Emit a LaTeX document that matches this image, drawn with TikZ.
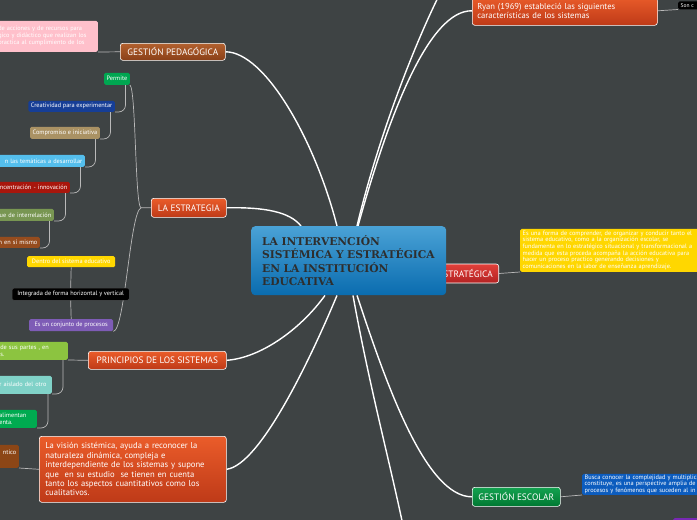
\documentclass[tikz,border=0pt]{standalone}
\usepackage{fontspec}
\setmainfont{PT Sans}
\newfontfamily\titulofont{DejaVu Serif}
\usetikzlibrary{positioning}
\definecolor{fondo}{RGB}{62,67,68}
\definecolor{azulA}{RGB}{74,162,214}
\definecolor{azulB}{RGB}{10,108,175}
\definecolor{cafeA}{RGB}{178,96,46}
\definecolor{cafeB}{RGB}{138,64,24}
\definecolor{naranjaA}{RGB}{234,92,42}
\definecolor{naranjaB}{RGB}{190,58,24}
\definecolor{rojoA}{RGB}{226,64,58}
\definecolor{rojoB}{RGB}{178,34,34}
\definecolor{verdeA}{RGB}{20,162,80}
\definecolor{verdeB}{RGB}{0,120,50}
\definecolor{rosa}{RGB}{255,192,203}
\definecolor{amarillo}{RGB}{255,215,0}
\definecolor{morado}{RGB}{126,92,182}
\definecolor{lila}{RGB}{120,40,180}
\definecolor{hilo}{RGB}{185,185,185}
\pgfdeclarelayer{atras}
\pgfsetlayers{atras,main}
\tikzset{
  tema/.style={draw=white, line width=0.6pt, rounded corners=2.5pt, text=white,
    font=\fontsize{9.3}{9.5}\selectfont, inner sep=0pt},
  hoja/.style={rounded corners=1.5pt, text=white, font=\fontsize{6.3}{6.8}\selectfont,
    inner xsep=2.5pt, inner ysep=1pt},
  rama/.style={white, line width=1.4pt},
  enlace/.style={hilo, line width=0.7pt},
}
\begin{document}
\begin{tikzpicture}[x=1pt,y=-1pt,line join=round,line cap=round]
\useasboundingbox (0,0) rectangle (697,520);
\begin{pgfonlayer}{atras}
  \fill[fondo] (0,0) rectangle (697,520);
\end{pgfonlayer}

% nodo oculto detras del centro
\node[tema, top color=rojoA, bottom color=rojoB, minimum height=19, inner xsep=6pt, anchor=east] (es) at (499,273.5) {ESTRATÉGICA};

% centro
\node[rounded corners=4pt, top color=azulA, bottom color=azulB, minimum width=195, minimum height=69,
  inner xsep=11pt, text width=173, align=left, anchor=north west, text=black!82,
  font=\titulofont\bfseries\fontsize{10.7}{13.6}\selectfont] (cn) at (251,226)
  {\mbox{LA INTERVENCIÓN}\\\mbox{SISTÉMICA Y ESTRATÉGICA}\\\mbox{EN LA INSTITUCIÓN}\\\mbox{EDUCATIVA}};

% temas
\node[tema, top color=cafeA, bottom color=cafeB, minimum width=105, minimum height=17, anchor=north west] (gp) at (120,43) {GESTIÓN PEDAGÓGICA};
\node[tema, top color=naranjaA, bottom color=naranjaB, minimum width=75, minimum height=19, anchor=north west] (le) at (151,198) {LA ESTRATEGIA};
\node[tema, top color=naranjaA, bottom color=naranjaB, minimum width=138, minimum height=18, anchor=north west] (pr) at (88,351) {PRINCIPIOS DE LOS SISTEMAS};
\node[tema, top color=naranjaA, bottom color=naranjaB, minimum width=187, minimum height=66, inner xsep=6pt,
  text width=175, align=left, anchor=north west, font=\fontsize{8.6}{9.4}\selectfont] (lv) at (39,436)
  {La visión sistémica, ayuda a reconocer la\\naturaleza dinámica, compleja e\\interdependiente de los sistemas y supone\\que~~en su estudio~~se tienen en cuenta\\tanto los aspectos cuantitativos como los\\cualitativos.};
\node[tema, top color=naranjaA, bottom color=naranjaB, minimum width=185, minimum height=29, inner xsep=5pt,
  text width=175, align=left, anchor=north west, font=\fontsize{8.6}{9.2}\selectfont] (ry) at (472,-4)
  {Ryan (1969) estableció las siguientes\\características de los sistemas};
\node[tema, top color=verdeA, bottom color=verdeB, minimum width=88, minimum height=19, anchor=north west] (ge) at (472,487) {GESTIÓN ESCOLAR};

% hojas
\node[hoja, fill=rosa, text width=97, align=left, minimum height=31, anchor=south east,
  font=\fontsize{6.3}{7}\selectfont] (pk) at (98,52)
  {de acciones y de recursos para\\gico y didáctico que realizan los\\ practica al cumplimiento de los};
\node[hoja, fill=black, text width=40, align=left, inner ysep=2pt, anchor=south west,
  font=\fontsize{5.5}{6}\selectfont] (ng) at (678,9.5) {Son c};
\node[hoja, fill=amarillo, text width=200, align=left, minimum height=43, anchor=south west,
  font=\fontsize{6.3}{6.6}\selectfont] (am) at (520,272)
  {Es una forma de comprender, de organizar y conducir tanto el\\sistema educativo, como a la organización escolar, se\\fundamenta en lo estratégico situacional y transformacional a\\medida que esta proceda acompaña la acción educativa para\\hacer un proceso practico generando decisiones y\\comunicaciones en la labor de enseñanza aprendizaje.};
\node[hoja, fill={rgb,255:red,12;green,92;blue,190}, text width=150, align=left, minimum height=21, anchor=south west,
  font=\fontsize{6.3}{6.3}\selectfont] (az) at (582,495)
  {Busca conocer la complejidad y multiplic\\constituye, es una perspective amplia de\\procesos y fenómenos que suceden al in};
\node[hoja, fill=lila, minimum width=40, minimum height=10, anchor=north west] (pu) at (673,518) {};

% cadena de "Permite"
\node[hoja, fill={rgb,255:red,0;green,166;blue,81}, minimum height=12, anchor=south east] (pe) at (130,85) {Permite};
\node[hoja, fill={rgb,255:red,22;green,62;blue,150}, minimum height=11, anchor=south east] (cr) at (115,112) {Creatividad para experimentar};
\node[hoja, fill={rgb,255:red,170;green,146;blue,100}, minimum height=12, anchor=south east] (co) at (100,139) {Compromiso e iniciativa};
\node[hoja, fill={rgb,255:red,84;green,190;blue,236}, text width=110, align=right, minimum height=12, anchor=south east] (te) at (85,167) {n las temáticas a desarrollar};
\node[hoja, fill={rgb,255:red,168;green,22;blue,12}, text width=110, align=right, minimum height=11, anchor=south east] (cc) at (70,193) {ncentración - innovación};
\node[hoja, fill={rgb,255:red,120;green,150;blue,82}, text width=110, align=right, minimum height=12, anchor=south east] (ir) at (54,221) {ue de interrelación};
\node[hoja, fill={rgb,255:red,150;green,76;blue,30}, text width=110, align=right, minimum height=11, anchor=south east] (sm) at (40,248) {n en sí mismo};

% cadena de procesos
\node[hoja, fill=amarillo, minimum width=88, minimum height=11, anchor=north west] (dt) at (27,256) {Dentro del sistema educativo};
\node[hoja, fill=black, draw=black!70, line width=0.3pt, minimum width=117, minimum height=12, anchor=north west] (ig) at (12,288) {Integrada de forma horizontal y vertical};
\node[hoja, fill=morado, minimum width=84, minimum height=12, anchor=north west] (pc) at (29,319) {Es un conjunto de procesos};

% principios
\node[hoja, fill={rgb,255:red,140;green,196;blue,64}, text width=65, align=left, minimum height=18, anchor=south east] (lm) at (68,360) {de sus partes , en\\s.};
\node[hoja, fill={rgb,255:red,128;green,210;blue,200}, text width=50, align=left, minimum height=18, anchor=south east] (tq) at (52,394) {r aislado del otro};
\node[hoja, fill={rgb,255:red,0;green,170;blue,80}, text width=35, align=left, minimum height=18, anchor=south east] (vd) at (37,428) { alimentan\\enta.};
\node[hoja, fill={rgb,255:red,140;green,70;blue,22}, text width=40, align=right, minimum height=23, anchor=south east] (br) at (19,468) {ntico\\\strut};

\coordinate (arriba) at (447,-20);
\coordinate (abajo) at (406,540);
\coordinate (nudo) at ([xshift=-10pt]le.west);

\begin{pgfonlayer}{atras}
  % ramas del centro
  \draw[rama] (gp.east) .. controls (265,52) and (315,140) .. ([xshift=86pt]cn.north west);
  \draw[rama] (le.east) .. controls (265,207) and (290,212) .. ([xshift=50pt]cn.north west);
  \draw[rama] ([xshift=106pt]cn.north west) .. controls (380,130) and (420,30) .. (arriba);
  \draw[rama] ([xshift=107pt]cn.north west) .. controls (390,110) and (430,10) .. (ry.west);
  \draw[rama] (pr.east) .. controls (260,358) and (300,330) .. ([xshift=74pt]cn.south west);
  \draw[rama] (lv.east) .. controls (260,465) and (310,360) .. ([xshift=86pt]cn.south west);
  \draw[rama] ([xshift=106pt]cn.south west) .. controls (385,380) and (425,497) .. (ge.west);
  \draw[rama] ([xshift=102pt]cn.south west) .. controls (370,390) and (392,470) .. (abajo);
  % enlaces de hojas
  \draw[enlace] (pk.south east) -- (gp.west);
  \draw[enlace] (le.west) -- (nudo) .. controls (135,206) and (136,90) .. (pe.south east);
  \draw[enlace] (nudo) .. controls (130,212) and (125,330) .. (pc.south east);
  \foreach \a/\b in {pe/cr,cr/co,co/te,te/cc,cc/ir,ir/sm}
    \draw[enlace,rounded corners=7pt] ([xshift=-4.5pt]\a.south east) |- (\b.south east);
  \draw[enlace] (pc.north) -- (ig.south);
  \draw[enlace] (ig.north) -- (dt.south);
  \draw[enlace] (pr.west) -- (lm.south east);
  \draw[enlace,rounded corners=7pt] ([xshift=-5pt]lm.south east) |- (tq.south east);
  \draw[enlace,rounded corners=7pt] ([xshift=-4pt]tq.south east) |- (vd.south east);
  \draw[enlace] (lv.west) -- (br.south east);
  \draw[enlace] (ry.east) -- (ng.south west);
  \draw[enlace] (es.east) -- (am.south west);
  \draw[enlace] (ge.east) -- (az.south west);
\end{pgfonlayer}
\end{tikzpicture}
\end{document}
